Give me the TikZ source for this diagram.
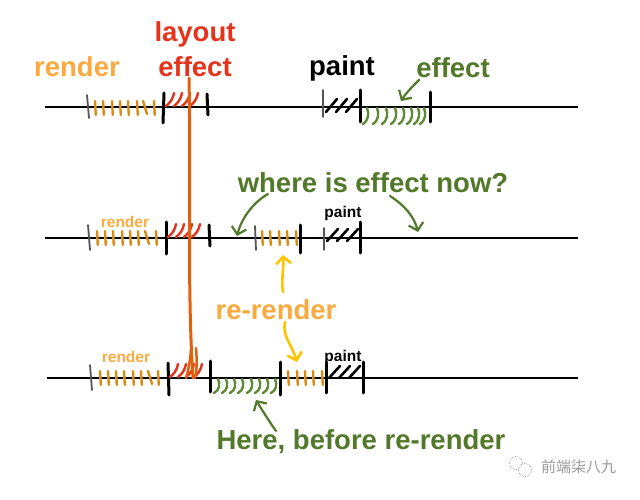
\documentclass[tikz,border=0pt]{standalone}
\usepackage{fontspec}
\setmainfont{Liberation Sans}
\newfontfamily\cjkfont{Noto Sans CJK SC}
\usetikzlibrary{arrows.meta}
\definecolor{lblorange}{HTML}{FBAA3F}
\definecolor{hatchorange}{HTML}{D98C12}
\definecolor{lyred}{HTML}{E5341C}
\definecolor{vorange}{HTML}{E0600F}
\definecolor{gr}{HTML}{52792A}
\definecolor{ghook}{HTML}{5E8A34}
\definecolor{yel}{HTML}{FFC400}
\definecolor{tickgray}{HTML}{555555}
\definecolor{wmgray}{HTML}{9A9A9A}
\begin{document}
\begin{tikzpicture}[x=1pt,y=-1pt,
  big/.style={font=\fontsize{27.5}{30}\bfseries\selectfont, inner sep=0pt},
  small/.style={font=\fontsize{15.5}{17}\bfseries\selectfont, inner sep=0pt},
  axis/.style={black, line width=2pt},
  btick/.style={black, line width=3pt, line cap=round},
  gtick/.style={tickgray, line width=1.8pt, line cap=round},
  ohatch/.style={hatchorange, line width=2.4pt, line cap=round},
  rarc/.style={lyred, line width=2.4pt, line cap=round},
  ghk/.style={ghook, line width=2.4pt, line cap=round},
  phatch/.style={black, line width=2.6pt, line cap=round},
  garrow/.style={gr, line width=2.2pt, line cap=round, -{Straight Barb[length=7pt,width=15pt,line width=2.2pt]}},
  yarrow/.style={yel, line width=2.6pt, line cap=round, -{Straight Barb[length=7pt,width=15pt,line width=2.6pt]}},
  vline/.style={vorange, line width=3pt, line cap=round}
]
\useasboundingbox (0,0) rectangle (640,500);
\fill[white] (0,0) rectangle (640,500);

% ---------- axes ----------
\coordinate (a1s) at (45,107); \coordinate (a1e) at (578,107);
\coordinate (a2s) at (45,238); \coordinate (a2e) at (578,238);
\coordinate (a3s) at (47,378); \coordinate (a3e) at (578,378);
\draw[axis] (a1s) -- (a1e);
\draw[axis] (a2s) -- (a2e);
\draw[axis] (a3s) -- (a3e);

% ---------- line 1 ----------
\draw[gtick] (87,95) -- (89,118);
\foreach \x in {95,103,112,120,128,137,154} \draw[ohatch] (\x,101) -- (\x+0.8,115);
\draw[ohatch] (143,101) -- (147,114);
\draw[btick] (164,93) -- (163,123);
\foreach \x in {166,174,182,190} \draw[rarc] (\x,106) .. controls (\x+4,103) and (\x+7,99) .. (\x+8,93);
\draw[btick] (207,94) -- (208,115);
\draw[gtick] (323,90) -- (323,117);
\foreach \x in {326,336,346} \draw[phatch] (\x,112) -- (\x+11,99);
\draw[btick] (360,90) -- (360,122);
\foreach \x in {367,377,386,395,403,411,418,424} \draw[ghk] (\x,108) .. controls (\x+2,113) and (\x+2,120) .. (\x-4,124);
\draw[btick] (430,92) -- (430,122);

% ---------- line 2 ----------
\draw[gtick] (88,225) -- (90,250);
\foreach \x in {97,105,113,122,130,138,156} \draw[ohatch] (\x,231) -- (\x+0.8,245);
\draw[ohatch] (145,231) -- (149,244);
\draw[btick] (166,222) -- (166,254);
\foreach \x in {168,176,184,192} \draw[rarc] (\x,237) .. controls (\x+4,234) and (\x+7,230) .. (\x+8,224);
\draw[btick] (209,225) -- (210,246);
\draw[gtick] (255,226) -- (256,250);
\foreach \x in {262,270,279,287,296} \draw[ohatch] (\x,231) -- (\x+0.8,245);
\draw[btick] (300,225) -- (300,253);
\draw[gtick] (324,228) -- (324,250);
\foreach \x in {327,337,347} \draw[phatch] (\x,241) -- (\x+11,229);
\draw[btick] (360,222) -- (360,253);

% ---------- line 3 ----------
\draw[gtick] (90,365) -- (92,390);
\foreach \x in {100,108,116,124,133,141,158} \draw[ohatch] (\x,371) -- (\x+0.8,385);
\draw[ohatch] (148,371) -- (152,384);
\draw[btick] (168,363) -- (169,395);
\foreach \x in {170,178,186,194} \draw[rarc] (\x,377) .. controls (\x+4,374) and (\x+7,370) .. (\x+8,364);
\draw[btick] (210,361) -- (210,392);
\foreach \x in {218,226,234,242,251,259,267,275} \draw[ghk] (\x,379) .. controls (\x+2,384) and (\x+2,390) .. (\x-4,393);
\draw[btick] (280,362) -- (280,395);
\foreach \x in {288,297,305,313,322} \draw[ohatch] (\x,371) -- (\x+0.8,385);
\draw[btick] (326,362) -- (326,393);
\foreach \x in {329,339,349} \draw[phatch] (\x,378) -- (\x+11,366);
\draw[btick] (363,362) -- (363,393);

% ---------- vertical layout-effect line ----------
\coordinate (vt) at (189,78);
\coordinate (vb) at (193,378);
\draw[vline] (vt) .. controls (191,180) and (187,290) .. (vb);
\draw[vline, line width=2.5pt] (196,348) .. controls (197,360) and (197,370) .. (195,378);
\draw[vline, line width=2.5pt] (191,350) .. controls (190,362) and (188,372) .. (186,378);

% ---------- labels ----------
\node[big, lblorange] (render1) at (77,67) {render};
\node[big, lyred] (layout) at (195,34) {layout};
\node[big, lyred] (leffect) at (195,67) {effect};
\node[big, black] (paint1) at (342,68) {paint};
\node[big, gr] (eff1) at (453,68) {effect};
\node[small, lblorange] (render2) at (125,222) {render};
\node[big, gr] (where) at (373,183) {where is effect now?};
\node[small, black] (paint2) at (343,213) {paint};
\node[big, lblorange] (rerender) at (276,310) {re-render};
\node[small, lblorange] (render3) at (126,357) {render};
\node[small, black] (paint3) at (343,357) {paint};
\node[big, gr] (here) at (361,442) {Here, before re-render};

% ---------- arrows ----------
\coordinate (t1) at (401,101);
\draw[garrow] (419,80) .. controls (413,86) and (406,93) .. (t1);
\coordinate (t2) at (237,236);
\draw[garrow] (268,194) .. controls (252,203) and (241,220) .. (t2);
\coordinate (t3) at (418,232);
\draw[garrow] (390,196) .. controls (404,205) and (414,216) .. (t3);
\coordinate (t4) at (283,255);
\draw[yarrow] (283,292) .. controls (281,280) and (284,268) .. (t4);
\coordinate (t5) at (297,362);
\draw[yarrow] (285,322) .. controls (282,336) and (292,345) .. (t5);
\coordinate (t6) at (256,400);
\draw[garrow] (276,431) .. controls (269,421) and (262,410) .. (t6);

% ---------- watermark ----------
\node[circle, draw=wmgray, densely dotted, line width=0.7pt, minimum size=13pt, inner sep=0pt] (wm1) at (516,463) {};
\node[circle, draw=wmgray, densely dotted, line width=0.7pt, fill=white, minimum size=13pt, inner sep=0pt] (wm2) at (525,470) {};
\node[wmgray, font=\cjkfont\fontsize{15}{17}\selectfont, inner sep=0pt, anchor=west] (wmtext) at (541,467) {前端柒八九};
\end{tikzpicture}
\end{document}
